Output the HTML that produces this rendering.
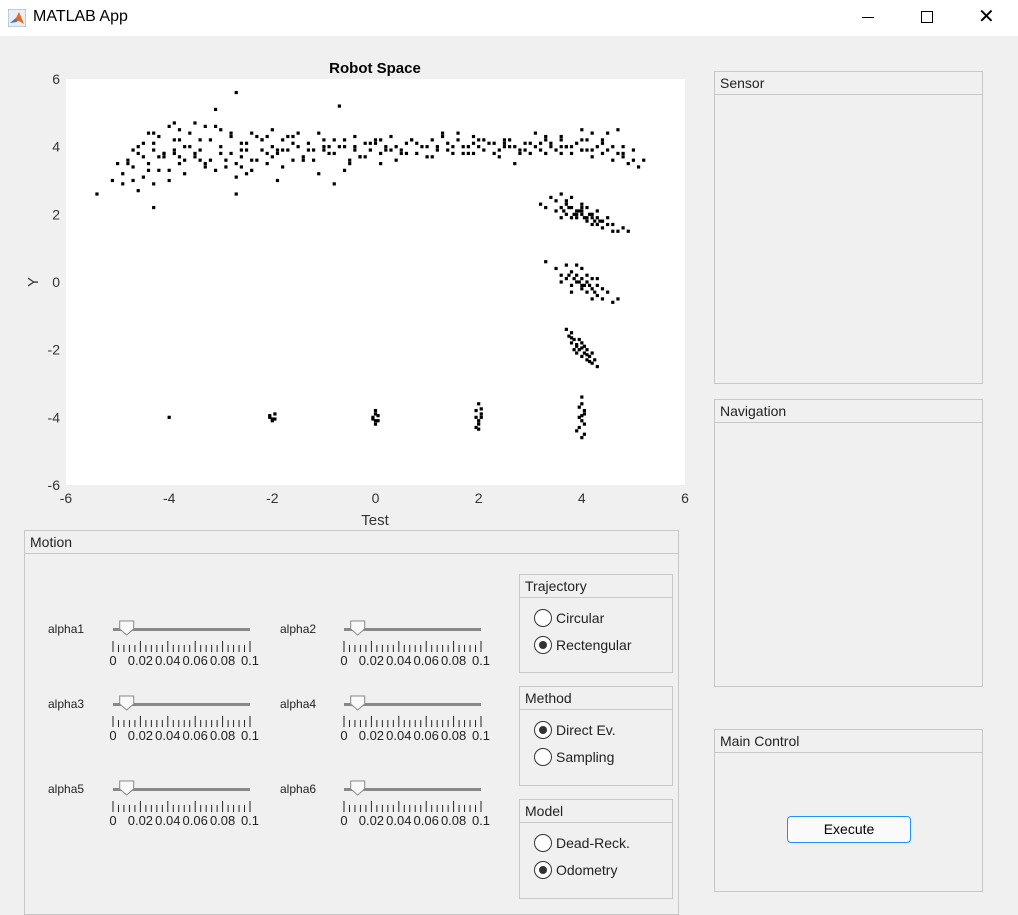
<!DOCTYPE html>
<html><head><meta charset="utf-8"><style>
body{margin:0;width:1018px;height:911px;overflow:hidden;background:#f0f0f0;font-family:"Liberation Sans",Arial,sans-serif;position:relative}
.abs{position:absolute}
.panel{position:absolute;border:1px solid #c8c8c8;box-sizing:border-box}
.ph{height:23px;border-bottom:1px solid #c8c8c8;font-size:14px;color:#222;padding:3px 0 0 5px;box-sizing:border-box}
.lbl{position:absolute;font-size:12px;color:#222}
.radio{position:absolute;font-size:14px;color:#222;height:18px;line-height:18px;padding-left:22px}
.radio:before{content:"";position:absolute;left:0;top:0;width:16px;height:16px;border:1px solid #333;border-radius:50%;background:#fff}
.radio.on:after{content:"";position:absolute;left:5px;top:5px;width:8px;height:8px;border-radius:50%;background:#333}
</style></head><body>
<div class="abs" style="left:0;top:0;width:1018px;height:36px;background:#fff">
<svg class="abs" style="left:8px;top:9px" width="18" height="18"><rect x="0" y="0" width="18" height="18" fill="#e8eef4" stroke="#9ab"/><path d="M2 14 L8 9 L11 3 L16 15 L11 12 Z" fill="#e46a1c"/><path d="M2 14 L8 9 L9 13 Z" fill="#3a7dc8"/></svg>
<div class="abs" style="left:33px;top:8px;font-size:16px;color:#000">MATLAB App</div>
<div class="abs" style="left:862px;top:17px;width:12px;height:1px;background:#000"></div>
<div class="abs" style="left:921px;top:11px;width:10px;height:10px;border:1px solid #000"></div>
<div class="abs" style="left:978px;top:7px;font-size:20px;line-height:20px">✕</div>
</div>

<svg class="abs" style="left:0;top:36px" width="700" height="500" id="chart"></svg>

<div class="panel" style="left:24px;top:530px;width:655px;height:385px"><div class="ph">Motion</div></div>
<div id="sliders"></div>

<div class="panel" style="left:519px;top:574px;width:154px;height:99px"><div class="ph">Trajectory</div>
<div class="radio" style="left:14px;top:34px">Circular</div>
<div class="radio on" style="left:14px;top:61px">Rectengular</div></div>
<div class="panel" style="left:519px;top:686px;width:154px;height:100px"><div class="ph">Method</div>
<div class="radio on" style="left:14px;top:34px">Direct Ev.</div>
<div class="radio" style="left:14px;top:61px">Sampling</div></div>
<div class="panel" style="left:519px;top:799px;width:154px;height:100px"><div class="ph">Model</div>
<div class="radio" style="left:14px;top:34px">Dead-Reck.</div>
<div class="radio on" style="left:14px;top:61px">Odometry</div></div>

<div class="panel" style="left:714px;top:71px;width:269px;height:313px"><div class="ph">Sensor</div></div>
<div class="panel" style="left:714px;top:399px;width:269px;height:288px"><div class="ph">Navigation</div></div>
<div class="panel" style="left:714px;top:729px;width:269px;height:163px"><div class="ph">Main Control</div></div>
<div class="abs" style="left:787px;top:816px;width:124px;height:27px;border:1px solid #1e90ff;border-radius:4px;background:#fafafa;box-sizing:border-box;text-align:center;line-height:25px;font-size:14px">Execute</div>

<script>
const xTicks=[-6,-4,-2,0,2,4,6];
const yTicks=[-6,-4,-2,0,2,4,6];
const bandX=[-5.4,-5.1,-5.0,-4.9,-4.9,-4.8,-4.7,-4.7,-4.6,-4.5,-4.5,-4.4,-4.3,-4.3,-4.3,-4.2,-4.2,-4.1,-4.0,-4.0,-3.9,-3.9,-3.8,-3.8,-3.7,-3.7,-3.6,-3.5,-3.5,-3.4,-3.3,-3.2,-3.1,-3.0,-3.0,-2.9,-2.8,-2.8,-2.7,-2.7,-2.6,-2.6,-2.5,-2.4,-2.4,-2.3,-2.2,-2.2,-2.1,-2.0,-2.0,-1.9,-1.8,-1.8,-1.7,-1.6,-1.5,-1.4,-1.3,-1.2,-1.1,-1.0,-0.9,-0.8,-0.7,-0.6,-0.5,-0.4,-0.3,-0.2,-0.1,0.0,0.1,0.2,0.3,0.5,0.6,0.8,1.0,1.1,1.2,1.4,1.5,1.6,1.8,1.9,2.0,2.1,2.3,2.4,2.5,2.6,2.8,2.9,3.0,3.1,3.3,3.4,3.5,3.6,3.7,3.8,3.9,4.0,4.1,4.2,4.3,4.4,4.5,4.6,4.7,4.8,4.9,5.0,5.1,5.2,-4.6,-4.4,-4.1,-3.8,-3.4,-3.1,-2.6,-2.1,-1.6,-1.0,-0.4,0.1,0.7,1.3,1.9,2.5,3.1,3.6,4.2,4.7,-3.9,-3.3,-2.5,-1.9,-0.8,0.4,1.7,2.7,3.3,4.0,-4.3,-2.7,-0.6,
-4.8,-4.6,-4.4,-4.2,-4.0,-3.8,-3.6,-3.4,-3.2,-3.0,-2.8,-2.6,-2.4,-2.2,-2.0,-1.8,-1.6,-1.4,-1.2,-1.0,-0.8,-0.6,-0.4,-0.2,0.0,0.2,0.4,0.6,0.8,1.0,1.2,1.4,1.6,1.8,2.0,2.2,2.4,2.6,2.8,3.0,3.2,3.4,3.6,3.8,4.0,4.2,4.4,4.6,4.8,5.0,
-4.5,-4.1,-3.7,-3.3,-2.9,-2.5,-2.1,-1.7,-1.3,-0.9,-0.5,-0.1,0.3,0.7,1.1,1.5,1.9,2.3,2.7,3.2,3.6,4.0,4.4,4.8,
-4.7,-4.3,-3.9,-3.5,-3.1,-2.7,-2.3,-1.9,-1.5,-1.1,-0.7,-0.3,0.1,0.5,0.9,1.3,1.7,2.1,2.5,2.9,3.3,3.7,4.1,4.5];
const bandY=[2.6,3.0,3.5,3.2,2.9,3.6,3.0,3.4,3.8,3.1,4.1,3.5,2.9,3.9,2.2,3.3,4.3,3.7,3.0,4.6,3.9,4.2,3.5,4.5,4.0,3.2,4.4,3.8,4.7,4.2,4.6,3.6,5.1,4.0,4.5,3.4,3.8,4.3,5.6,3.5,4.1,3.7,3.9,4.4,3.3,3.6,4.2,3.9,3.5,4.0,4.5,3.8,4.2,3.4,3.9,4.3,4.0,3.7,4.1,3.6,4.4,3.9,3.8,4.2,5.2,4.0,3.5,4.3,3.7,4.1,3.9,4.2,3.8,4.0,4.3,3.9,4.1,3.8,4.0,4.2,3.9,4.1,3.8,4.4,4.0,3.8,4.2,3.9,4.1,3.7,4.0,4.2,3.9,4.1,3.8,4.0,4.3,4.1,3.9,4.2,4.0,3.8,4.1,3.9,4.2,3.7,4.0,3.8,3.9,3.6,3.8,3.7,3.5,3.6,3.4,3.6,4.0,4.4,3.8,4.2,3.9,4.6,3.4,4.3,3.6,4.2,4.0,3.5,4.2,4.4,4.3,4.2,4.4,4.3,4.4,4.5,4.7,3.4,3.2,3.0,2.9,3.6,4.0,3.5,3.8,4.5,4.4,2.6,3.3,3.5,2.7,3.3,3.7,
3.3,3.7,4.0,3.6,4.2,3.8,4.4,3.9,3.6,4.2,3.7,3.9,4.1,3.6,3.9,4.0,3.8,4.2,3.9,3.7,4.1,3.9,4.0,3.8,4.1,3.7,4.0,3.9,4.2,3.8,4.0,4.1,3.9,4.0,3.8,4.1,3.9,4.0,3.8,4.0,4.2,3.9,4.1,4.0,3.8,3.9,3.7,3.8,3.6,3.5,
3.6,4.1,3.8,4.3,3.9,4.0,3.6,4.1,3.9,4.2,3.7,4.0,4.1,3.8,4.0,4.1,4.0,3.9,4.2,4.0,3.9,4.1,3.8,3.7,
3.3,3.1,4.3,3.9,4.4,3.2,4.0,3.7,4.2,3.8,4.0,4.3,3.8,4.2,4.1,3.9,4.2,4.0,3.9,4.4,4.1,4.3,4.1,3.9];
const c1X=[3.2,3.3,3.4,3.5,3.5,3.6,3.6,3.7,3.7,3.8,3.8,3.9,3.9,4.0,4.0,4.1,4.1,4.2,4.2,4.3,4.3,4.4,4.4,4.5,4.5,4.6,4.7,4.8,4.9,3.8,4.0,4.2,4.4,3.7,3.9,4.1,4.3,4.6,3.6,4.0,3.65,3.75,3.85,3.95,4.05,4.15,4.25,4.35];
const c1Y=[2.3,2.2,2.5,2.4,2.1,2.2,2.6,2.0,2.3,2.2,2.5,1.9,2.1,2.3,2.0,1.8,2.2,2.0,1.7,1.9,2.1,1.8,1.6,1.9,1.7,1.7,1.5,1.6,1.5,1.9,2.1,1.9,1.8,2.4,2.0,1.9,1.7,1.5,1.9,2.2,2.1,2.2,2.0,2.1,1.9,2.0,1.8,1.8];
const c2X=[3.3,3.5,3.6,3.7,3.7,3.8,3.8,3.9,3.9,4.0,4.0,4.0,4.1,4.1,4.2,4.2,4.3,4.3,4.4,4.4,4.5,4.6,4.7,3.9,4.1,3.8,4.2,4.0,3.6,4.3,3.85,3.95,4.05,4.15,4.25,3.75];
const c2Y=[0.6,0.4,0.2,0.5,0.1,0.3,-0.1,0.2,0.0,0.1,-0.2,0.4,0.0,-0.3,0.1,-0.2,-0.1,-0.4,-0.2,-0.5,-0.3,-0.6,-0.5,0.5,0.2,-0.3,-0.5,-0.1,0.0,0.1,0.1,0.0,-0.1,-0.1,-0.3,0.2];
const c3X=[3.7,3.75,3.8,3.8,3.85,3.9,3.9,3.95,4.0,4.0,4.05,4.1,4.1,4.15,4.2,4.2,4.3,3.95,4.05,3.85,3.9,4.0,4.1,3.8,4.15,4.25];
const c3Y=[-1.4,-1.6,-1.5,-1.8,-1.7,-1.9,-2.1,-2.0,-1.8,-2.2,-2.1,-2.0,-2.3,-2.2,-2.1,-2.4,-2.5,-1.7,-1.9,-2.0,-1.85,-1.95,-2.15,-1.65,-2.35,-2.3];
const c4X=[-4.0,-2.05,-2.0,-1.95,-2.0,-2.05,-1.95,0.0,-0.05,0.05,0.0,0.0,-0.05,0.05,0.0,2.0,1.95,2.05,2.0,1.95,2.05,2.0,1.95,2.05,2.0,4.0,3.95,4.05,4.0,3.95,4.05,4.0,4.0,3.9,4.05,3.95,4.0,4.05];
const c4Y=[-4.0,-3.95,-4.05,-3.9,-4.1,-4.0,-4.05,-3.8,-4.0,-4.1,-4.2,-3.9,-4.05,-3.95,-4.1,-3.6,-3.8,-4.0,-4.2,-4.3,-3.9,-4.1,-4.0,-3.75,-4.35,-3.4,-3.7,-3.9,-4.1,-4.3,-4.5,-4.6,-3.6,-4.4,-3.8,-4.0,-3.95,-4.2];
const X0=66,X1=685,Y0=449,Y1=43;
const sx=v=>X0+(v+6)/12*(X1-X0), sy=v=>Y0-(v+6)/12*(Y0-Y1);
const svg=document.getElementById('chart');const NS='http://www.w3.org/2000/svg';
function mk(t,a,txt){const e=document.createElementNS(NS,t);for(const k in a)e.setAttribute(k,a[k]);if(txt!=null)e.textContent=txt;svg.appendChild(e);return e;}
const bg=mk('rect',{x:X0,y:Y1,width:X1-X0,height:Y0-Y1,fill:'#fff'});


const t=mk('text',{x:375,y:37,'text-anchor':'middle','font-size':15,'font-weight':'bold','font-family':'Liberation Sans'},'Robot Space');


const xl=mk('text',{x:375,y:489,'text-anchor':'middle','font-size':15,fill:'#333','font-family':'Liberation Sans'},'Test');


const yl=mk('text',{x:38,y:246,'text-anchor':'middle','font-size':15,fill:'#333',transform:'rotate(-90 38 246)','font-family':'Liberation Sans'},'Y');


xTicks.forEach(v=>{const e=mk('text',{x:sx(v),y:Y0+18,'text-anchor':'middle','font-size':14,fill:'#333','font-family':'Liberation Sans'},String(v));

});
yTicks.forEach(v=>{const e=mk('text',{x:X0-6,y:sy(v)+5,'text-anchor':'end','font-size':14,fill:'#333','font-family':'Liberation Sans'},String(v));

});
[[bandX,bandY],[c1X,c1Y],[c2X,c2Y],[c3X,c3Y],[c4X,c4Y]].forEach(([xs,ys])=>xs.forEach((x,i)=>{const p=mk('rect',{x:sx(x)-1.6,y:sy(ys[i])-1.6,width:3.2,height:3.2,fill:'#000'});

}));
// sliders
const sl=document.getElementById('sliders');
const rows=[[629,'alpha1','alpha2'],[704,'alpha3','alpha4'],[789,'alpha5','alpha6']];
const tickLabels=['0','0.02','0.04','0.06','0.08','0.1'];
rows.forEach(([y,a,b])=>[[48,113,a],[280,344,b]].forEach(([lx,tx,name])=>{
 const l=document.createElement('div');l.className='lbl';l.style.left=lx+'px';l.style.top=(y-7)+'px';l.textContent=name;
 
 
 sl.appendChild(l);
 const w=137;
 let h='<svg style="position:absolute;left:'+(tx-8)+'px;top:'+(y-12)+'px" width="160" height="52">';
 h+='<rect x="8" y="11" width="'+w+'" height="3" fill="#888"/>';
 for(let i=0;i<=25;i++){const xx=8+i*w/25;h+='<line x1="'+xx+'" x2="'+xx+'" y1="'+(i%5?28:24)+'" y2="35" stroke="#222"/>';}
 tickLabels.forEach((s,i)=>{h+='<text x="'+(8+i*w/5)+'" y="48" font-size="13" text-anchor="middle" fill="#222" font-family="Liberation Sans">'+s+'</text>';});
 const th=8+0.1*w;
 h+='<path d="M'+(th-7)+' 4 h14 v8 l-7 6 l-7 -6 z" fill="#fafafa" stroke="#888"/></svg>';
 const d=document.createElement('div');d.innerHTML=h;
 
 
 sl.appendChild(d);
}));
</script>
</body></html>
